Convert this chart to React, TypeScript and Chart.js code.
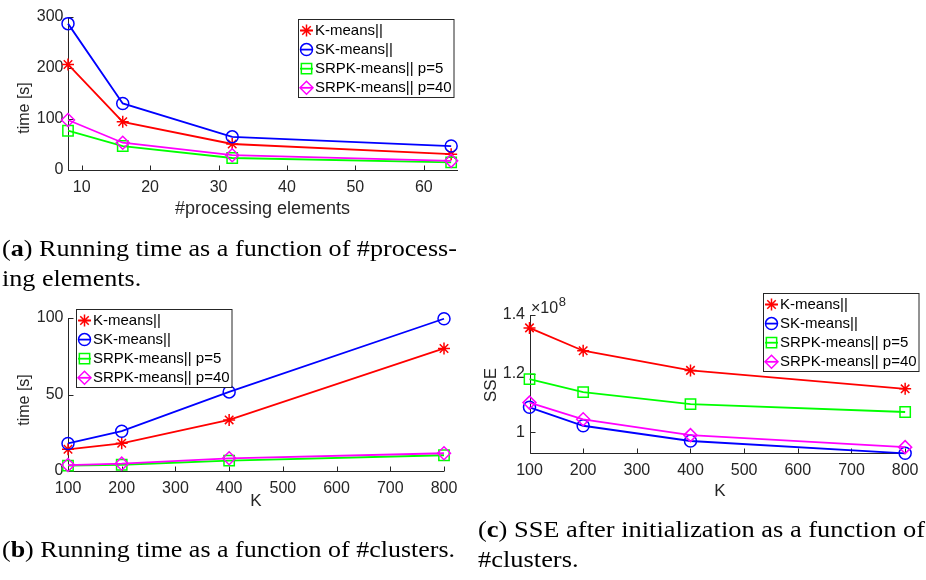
import React, { useEffect, useLayoutEffect, useRef } from "react";
import { Chart, registerables } from "chart.js";

Chart.register(...registerables);

// ---------------- data ----------------
const SERIES_NAMES = ["K-means||", "SK-means||", "SRPK-means|| p=5", "SRPK-means|| p=40"];
const SERIES_COLORS = ["#ff0000", "#0000ff", "#00ff00", "#ff00ff"];
const SERIES_MARKERS = ["star", "circle", "rect", "rectRot"];

// (a) time vs #processing elements
const PE_COUNTS = [8, 16, 32, 64];
const TIME_PE_KMEANS = [207, 94.5, 51, 31];
const TIME_PE_SKMEANS = [287, 130.5, 65, 47];
const TIME_PE_SRPK5 = [77, 47, 23.5, 15];
const TIME_PE_SRPK40 = [98, 53.5, 29, 18];
const PE_X_TICKS = [10, 20, 30, 40, 50, 60];
const PE_Y_TICKS = [0, 100, 200, 300];

// (b) time vs K
const K_VALUES = [100, 200, 400, 800];
const TIME_K_KMEANS = [14.2, 18.1, 33.4, 80.1];
const TIME_K_SKMEANS = [18, 26, 51.7, 99.5];
const TIME_K_SRPK5 = [3.5, 4.1, 6.8, 10.3];
const TIME_K_SRPK40 = [3.9, 4.8, 8.3, 11.6];
const K_X_TICKS = [100, 200, 300, 400, 500, 600, 700, 800];
const TIME_K_Y_TICKS = [0, 50, 100];

// (c) SSE vs K  (values in units of 1e8)
const SSE_EXPONENT = 8;
const SSE_KMEANS = [1.356, 1.278, 1.211, 1.148];
const SSE_SKMEANS = [1.085, 1.022, 0.97, 0.928];
const SSE_SRPK5 = [1.181, 1.137, 1.096, 1.069];
const SSE_SRPK40 = [1.101, 1.044, 0.99, 0.949];
const SSE_Y_TICKS = [1, 1.2, 1.4];

// ---------------- styling ----------------
const W = 926;
const H = 580;
const AXIS_COLOR = "#262626";
const SANS = '"Liberation Sans", Arial, sans-serif';
const TICK_FONT = 16;
const LEGEND_FONT = 15;
const MARKER_RADIUS: Record<string, number> = { star: 6, circle: 6, rect: 7.3, rectRot: 6.5 };

type Spec = {
  area: { left: number; top: number; right: number; bottom: number };
  xMin: number; xMax: number; yMin: number; yMax: number;
  xValues: number[];
  series: number[][];
  xTicks: number[]; yTicks: number[];
  xTitle: string; xTitleAt: [number, number]; xTitleSize: number;
  yTitle: string; yTitleAt: [number, number]; yTitleSize: number;
  legendAt: [number, number];
  exponentAt?: [number, number];
};

const SPECS: Spec[] = [
  {
    area: { left: 68, top: 17, right: 458, bottom: 170 },
    xMin: 8, xMax: 65, yMin: 0, yMax: 300,
    xValues: PE_COUNTS,
    series: [TIME_PE_KMEANS, TIME_PE_SKMEANS, TIME_PE_SRPK5, TIME_PE_SRPK40],
    xTicks: PE_X_TICKS, yTicks: PE_Y_TICKS,
    xTitle: "#processing elements", xTitleAt: [262.5, 209.5], xTitleSize: 18,
    yTitle: "time [s]", yTitleAt: [25, 108], yTitleSize: 16,
    legendAt: [298, 19],
  },
  {
    area: { left: 68, top: 318, right: 444, bottom: 471 },
    xMin: 100, xMax: 800, yMin: 0, yMax: 100,
    xValues: K_VALUES,
    series: [TIME_K_KMEANS, TIME_K_SKMEANS, TIME_K_SRPK5, TIME_K_SRPK40],
    xTicks: K_X_TICKS, yTicks: TIME_K_Y_TICKS,
    xTitle: "K", xTitleAt: [256, 501.5], xTitleSize: 17,
    yTitle: "time [s]", yTitleAt: [25, 400], yTitleSize: 16,
    legendAt: [76, 309],
  },
  {
    area: { left: 529.5, top: 315, right: 910.5, bottom: 453.3 },
    xMin: 100, xMax: 800, yMin: 0.928, yMax: 1.4,
    xValues: K_VALUES,
    series: [SSE_KMEANS, SSE_SKMEANS, SSE_SRPK5, SSE_SRPK40],
    xTicks: K_X_TICKS, yTicks: SSE_Y_TICKS,
    xTitle: "K", xTitleAt: [720, 491.5], xTitleSize: 17,
    yTitle: "SSE", yTitleAt: [491.5, 385], yTitleSize: 17,
    legendAt: [763, 293],
    exponentAt: [531, 313],
  },
];

function drawMarker(ctx: CanvasRenderingContext2D, style: string, x: number, y: number, r: number) {
  ctx.beginPath();
  if (style === "circle") {
    ctx.arc(x, y, r, 0, Math.PI * 2);
  } else if (style === "rect") {
    const s = r * Math.SQRT1_2;
    ctx.rect(x - s, y - s, 2 * s, 2 * s);
  } else if (style === "rectRot") {
    ctx.moveTo(x - r, y);
    ctx.lineTo(x, y - r);
    ctx.lineTo(x + r, y);
    ctx.lineTo(x, y + r);
    ctx.closePath();
  } else {
    const d = r * Math.SQRT1_2;
    ctx.moveTo(x - r, y); ctx.lineTo(x + r, y);
    ctx.moveTo(x, y - r); ctx.lineTo(x, y + r);
    ctx.moveTo(x - d, y - d); ctx.lineTo(x + d, y + d);
    ctx.moveTo(x - d, y + d); ctx.lineTo(x + d, y - d);
  }
  ctx.stroke();
}

function makeDecor(spec: Spec) {
  return {
    id: "decor",
    beforeDatasetsDraw(chart: any) {
      const { ctx, chartArea: ca, scales } = chart;
      ctx.save();
      ctx.strokeStyle = AXIS_COLOR;
      ctx.lineWidth = 1;
      ctx.beginPath();
      const lx = Math.round(ca.left) + 0.5;
      const by = Math.round(ca.bottom) + 0.5;
      ctx.moveTo(lx, ca.top);
      ctx.lineTo(lx, by);
      ctx.lineTo(ca.right, by);
      const tl = 5;
      for (const v of spec.xTicks) {
        const px = Math.round(scales.x.getPixelForValue(v)) + 0.5;
        ctx.moveTo(px, by);
        ctx.lineTo(px, by - tl);
      }
      for (const v of spec.yTicks) {
        const py = Math.round(scales.y.getPixelForValue(v)) + 0.5;
        ctx.moveTo(lx, py);
        ctx.lineTo(lx + tl, py);
      }
      ctx.stroke();
      ctx.restore();
    },
    afterDraw(chart: any) {
      const { ctx } = chart;
      ctx.save();
      // axis titles
      ctx.fillStyle = AXIS_COLOR;
      ctx.textAlign = "center";
      ctx.textBaseline = "middle";
      ctx.font = `${spec.xTitleSize}px ${SANS}`;
      ctx.fillText(spec.xTitle, spec.xTitleAt[0], spec.xTitleAt[1]);
      ctx.save();
      ctx.font = `${spec.yTitleSize}px ${SANS}`;
      ctx.translate(spec.yTitleAt[0], spec.yTitleAt[1]);
      ctx.rotate(-Math.PI / 2);
      ctx.fillText(spec.yTitle, 0, 0);
      ctx.restore();
      // exponent
      if (spec.exponentAt) {
        const [ex, ey] = spec.exponentAt;
        ctx.textAlign = "left";
        ctx.textBaseline = "alphabetic";
        ctx.font = `${TICK_FONT}px ${SANS}`;
        const base = "\u00d710";
        ctx.fillText(base, ex, ey);
        const bw = ctx.measureText(base).width;
        ctx.font = `${Math.round(TICK_FONT * 0.8)}px ${SANS}`;
        ctx.fillText(String(SSE_EXPONENT), ex + bw + 0.5, ey - 7);
      }
      // legend
      const [bx, byy] = spec.legendAt;
      const bw = 155.5, bh = 78;
      ctx.fillStyle = "#ffffff";
      ctx.fillRect(bx, byy, bw, bh);
      ctx.strokeStyle = AXIS_COLOR;
      ctx.lineWidth = 1;
      ctx.strokeRect(Math.round(bx) + 0.5, Math.round(byy) + 0.5, bw, bh);
      ctx.font = `${LEGEND_FONT}px ${SANS}`;
      ctx.textAlign = "left";
      ctx.textBaseline = "middle";
      SERIES_NAMES.forEach((name, i) => {
        const ry = byy + 11.5 + 19.1 * i;
        ctx.strokeStyle = SERIES_COLORS[i];
        ctx.lineWidth = 1.8;
        ctx.beginPath();
        ctx.moveTo(bx + 2, ry);
        ctx.lineTo(bx + 15, ry);
        ctx.stroke();
        ctx.lineWidth = 1.5;
        drawMarker(ctx, SERIES_MARKERS[i], bx + 8.5, ry, MARKER_RADIUS[SERIES_MARKERS[i]]);
        ctx.fillStyle = "#000000";
        ctx.fillText(name, bx + 17, ry + 0.5);
      });
      ctx.restore();
    },
  };
}

function Panel({ spec }: { spec: Spec }) {
  const ref = useRef<HTMLCanvasElement>(null);
  useEffect(() => {
    const YW = 40;
    const XH = 40;
    const a = spec.area;
    const chart = new Chart(ref.current as HTMLCanvasElement, {
      type: "line",
      data: {
        datasets: SERIES_NAMES.map((name, i) => ({
          label: name,
          data: spec.xValues.map((x, j) => ({ x, y: spec.series[i][j] })),
          borderColor: SERIES_COLORS[i],
          backgroundColor: "rgba(0,0,0,0)",
          borderWidth: 1.8,
          pointStyle: SERIES_MARKERS[i] as any,
          pointRadius: MARKER_RADIUS[SERIES_MARKERS[i]],
          pointBorderColor: SERIES_COLORS[i],
          pointBackgroundColor: "rgba(0,0,0,0)",
          pointBorderWidth: 1.5,
          tension: 0,
          fill: false,
          order: 3 - i,
          clip: false as any,
        })),
      },
      options: {
        responsive: false,
        animation: false,
        devicePixelRatio: 1,
        events: [],
        layout: {
          padding: {
            left: a.left - YW,
            top: a.top,
            right: W - a.right,
            bottom: H - a.bottom - XH,
          },
        },
        plugins: {
          legend: { display: false },
          tooltip: { enabled: false },
          title: { display: false },
        },
        scales: {
          x: {
            type: "linear",
            min: spec.xMin,
            max: spec.xMax,
            afterFit: (s: any) => { s.height = XH; },
            afterBuildTicks: (s: any) => { s.ticks = spec.xTicks.map((v) => ({ value: v })); },
            grid: { display: false, drawTicks: false },
            border: { display: false },
            ticks: {
              autoSkip: false,
              maxRotation: 0,
              padding: 7.5,
              color: AXIS_COLOR,
              font: { family: SANS, size: TICK_FONT },
              callback: (v: any) => String(v),
            },
          },
          y: {
            type: "linear",
            min: spec.yMin,
            max: spec.yMax,
            afterFit: (s: any) => { s.width = YW; },
            afterBuildTicks: (s: any) => { s.ticks = spec.yTicks.map((v) => ({ value: v })); },
            grid: { display: false, drawTicks: false },
            border: { display: false },
            ticks: {
              autoSkip: false,
              padding: 4.5,
              color: AXIS_COLOR,
              font: { family: SANS, size: TICK_FONT },
              callback: (v: any) => String(v),
            },
          },
        },
      },
      plugins: [makeDecor(spec)],
    } as any);
    return () => chart.destroy();
  }, [spec]);
  return (
    <canvas
      ref={ref}
      width={W}
      height={H}
      style={{ position: "absolute", left: 0, top: 0, width: W, height: H }}
    />
  );
}

const CAPTION_SIZE = 23;
const CAPTION_GAP = 30;

function Caption({ left, baseline, width, lines }: { left: number; baseline: number; width: number; lines: React.ReactNode[] }) {
  const boxRef = useRef<HTMLDivElement>(null);
  const firstRef = useRef<HTMLSpanElement>(null);
  useLayoutEffect(() => {
    const el = boxRef.current;
    const first = firstRef.current;
    if (!el || !first) return;
    el.style.transform = "none";
    const w = first.getBoundingClientRect().width;
    if (w > 0) el.style.transform = `scaleX(${width / w})`;
  }, [width]);
  const top = baseline - (CAPTION_GAP - 1.107 * CAPTION_SIZE) / 2 - 0.891 * CAPTION_SIZE;
  return (
    <div
      ref={boxRef}
      style={{
        position: "absolute",
        left,
        top,
        fontFamily: '"Liberation Serif", "Times New Roman", serif',
        fontSize: CAPTION_SIZE,
        lineHeight: `${CAPTION_GAP}px`,
        whiteSpace: "nowrap",
        transformOrigin: "0 0",
        color: "#000",
      }}
    >
      {lines.map((ln, i) => (
        <div key={i}>
          <span ref={i === 0 ? firstRef : undefined}>{ln}</span>
        </div>
      ))}
    </div>
  );
}

export default function App() {
  return (
    <div style={{ position: "absolute", left: 0, top: 0, width: W, height: H, background: "#fff", overflow: "hidden" }}>
      {SPECS.map((s, i) => (
        <Panel key={i} spec={s} />
      ))}
      <Caption
        left={2}
        baseline={257}
        width={455}
        lines={[
          <>(<b>a</b>) Running time as a function of #process-</>,
          <>ing elements.</>,
        ]}
      />
      <Caption
        left={2}
        baseline={558}
        width={453}
        lines={[<>(<b>b</b>) Running time as a function of #clusters.</>]}
      />
      <Caption
        left={478}
        baseline={538}
        width={447}
        lines={[
          <>(<b>c</b>) SSE after initialization as a function of</>,
          <>#clusters.</>,
        ]}
      />
    </div>
  );
}
